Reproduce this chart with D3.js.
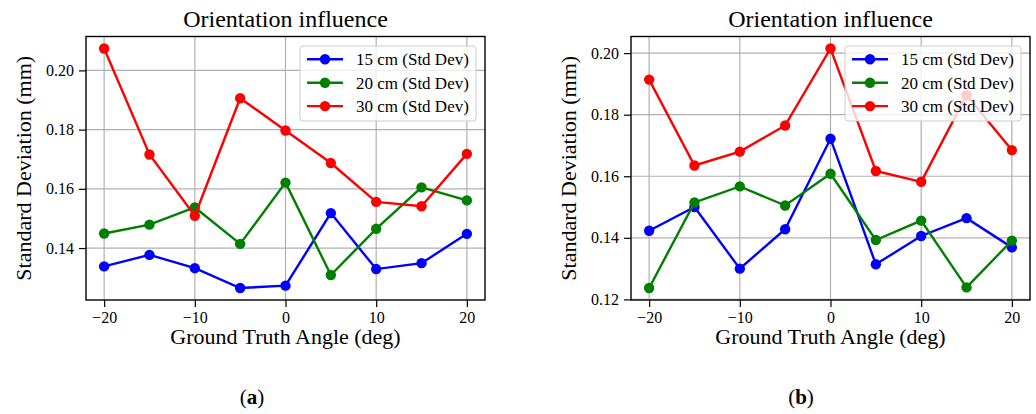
<!DOCTYPE html>
<html lang="en">
  <head>
    <meta charset="utf-8" />
    <title>Orientation influence</title>
    <script src="https://cdn.jsdelivr.net/npm/d3@7"></script>
    <style>
      body { margin: 0; background: #fff; }
      text { font-family: "Liberation Serif", "DejaVu Serif", serif; fill: #000; }
    </style>
  </head>
  <body>
    <div id="svgContainer"></div>
  </body>
  <script>
    // data
    var angles = [-20, -15, -10, -5, 0, 5, 10, 15, 20];
    var seriesNames = ["15 cm (Std Dev)", "20 cm (Std Dev)", "30 cm (Std Dev)"];
    var a15 = [0.1338, 0.1377, 0.1332, 0.1265, 0.1273, 0.1518, 0.1329, 0.1349, 0.1448];
    var a20 = [0.1449, 0.1479, 0.1537, 0.1414, 0.1621, 0.1309, 0.1465, 0.1605, 0.1561];
    var a30 = [0.2074, 0.1716, 0.1509, 0.1906, 0.1797, 0.1687, 0.1556, 0.1541, 0.1718];
    var b15 = [0.1423, 0.1500, 0.1300, 0.1428, 0.1722, 0.1314, 0.1406, 0.1464, 0.1369];
    var b20 = [0.1237, 0.1515, 0.1567, 0.1505, 0.1608, 0.1393, 0.1456, 0.1239, 0.1391];
    var b30 = [0.1914, 0.1635, 0.1680, 0.1765, 0.2015, 0.1617, 0.1582, 0.1863, 0.1685];
    var xTicks = [-20, -10, 0, 10, 20];
    var yTicksA = [0.14, 0.16, 0.18, 0.20];
    var yTicksB = [0.12, 0.14, 0.16, 0.18, 0.20];
    var colors = ["#0000ff", "#008000", "#ff0000"];

    var width = 1036,
        height = 414;

    var svg = d3.select("#svgContainer")
                .append("svg")
                .attr("width", width)
                .attr("height", height);

    var panels = [
      {left: 86, right: 485, series: [a15, a20, a30], yTicks: yTicksA, ylabX: 31, caption: "a", capX: 252},
      {left: 631, right: 1030, series: [b15, b20, b30], yTicks: yTicksB, ylabX: 576, caption: "b", capX: 801}
    ];

    var plotTop = 36.5, plotBottom = 300;

    // matplotlib-like 5% margins
    function padded(ext) {
      var p = (ext[1] - ext[0]) * 0.05;
      return [ext[0] - p, ext[1] + p];
    }

    var fmtX = function(d) { return d < 0 ? "\u2212" + Math.abs(d) : "" + d; };

    panels.forEach(function(p) {
      var g = svg.append("g");
      var x = d3.scaleLinear().domain(padded(d3.extent(angles))).range([p.left, p.right]);
      var y = d3.scaleLinear().domain(padded(d3.extent(d3.merge(p.series)))).range([plotBottom, plotTop]);

      // grid
      g.append("g").selectAll("line").data(xTicks).enter().append("line")
        .attr("x1", function(d) { return x(d); }).attr("x2", function(d) { return x(d); })
        .attr("y1", plotTop).attr("y2", plotBottom)
        .attr("stroke", "#b0b0b0").attr("stroke-width", 1.2);
      g.append("g").selectAll("line").data(p.yTicks).enter().append("line")
        .attr("y1", function(d) { return y(d); }).attr("y2", function(d) { return y(d); })
        .attr("x1", p.left).attr("x2", p.right)
        .attr("stroke", "#b0b0b0").attr("stroke-width", 1.2);

      // axes
      var xAxis = g.append("g").attr("transform", "translate(0," + plotBottom + ")")
        .call(d3.axisBottom(x).tickValues(xTicks).tickFormat(fmtX).tickSize(7).tickPadding(5));
      var yAxis = g.append("g").attr("transform", "translate(" + p.left + ",0)")
        .call(d3.axisLeft(y).tickValues(p.yTicks).tickFormat(d3.format(".2f")).tickSize(7).tickPadding(5));
      [xAxis, yAxis].forEach(function(a) {
        a.select(".domain").remove();
        a.selectAll("line").attr("stroke", "#000").attr("stroke-width", 1.2);
        a.selectAll("text").attr("font-family", "Liberation Serif").attr("font-size", 16).attr("fill", "#000");
      });

      // lines and markers
      var line = d3.line()
        .x(function(d, i) { return x(angles[i]); })
        .y(function(d) { return y(d); });
      p.series.forEach(function(s, k) {
        g.append("path").datum(s)
          .attr("d", line)
          .attr("fill", "none").attr("stroke", colors[k]).attr("stroke-width", 2.4);
        g.append("g").selectAll("circle").data(s).enter().append("circle")
          .attr("cx", function(d, i) { return x(angles[i]); })
          .attr("cy", function(d) { return y(d); })
          .attr("r", 5.2).attr("fill", colors[k]);
      });

      // frame
      g.append("rect").attr("x", p.left).attr("y", plotTop)
        .attr("width", p.right - p.left).attr("height", plotBottom - plotTop)
        .attr("fill", "none").attr("stroke", "#000").attr("stroke-width", 1.4);

      // legend
      var lx = p.right - 185, ly = 46;
      var leg = g.append("g");
      leg.append("rect").attr("x", lx).attr("y", ly).attr("width", 176).attr("height", 75)
        .attr("rx", 3).attr("fill", "#fff").attr("fill-opacity", 0.8)
        .attr("stroke", "#cccccc").attr("stroke-width", 1);
      seriesNames.forEach(function(name, k) {
        var cy = ly + 13.3 + k * 23.4;
        leg.append("line").attr("x1", lx + 7).attr("x2", lx + 43).attr("y1", cy).attr("y2", cy)
          .attr("stroke", colors[k]).attr("stroke-width", 2.4);
        leg.append("circle").attr("cx", lx + 25).attr("cy", cy).attr("r", 5.2).attr("fill", colors[k]);
        leg.append("text").attr("x", lx + 56).attr("y", cy + 6)
          .attr("font-size", 17).text(name);
      });

      // title and labels
      g.append("text").attr("x", (p.left + p.right) / 2).attr("y", 27)
        .attr("text-anchor", "middle").attr("font-size", 24).text("Orientation influence");
      g.append("text").attr("x", (p.left + p.right) / 2).attr("y", 344)
        .attr("text-anchor", "middle").attr("font-size", 22).text("Ground Truth Angle (deg)");
      g.append("text").attr("transform", "translate(" + p.ylabX + "," + ((plotTop + plotBottom) / 2) + ") rotate(-90)")
        .attr("text-anchor", "middle").attr("font-size", 22).text("Standard Deviation (mm)");

      // caption
      var cap = g.append("text").attr("x", p.capX).attr("y", 404)
        .attr("text-anchor", "middle").attr("font-size", 21);
      cap.append("tspan").text("(");
      cap.append("tspan").attr("font-weight", "bold").text(p.caption);
      cap.append("tspan").text(")");
    });
  </script>
</html>
